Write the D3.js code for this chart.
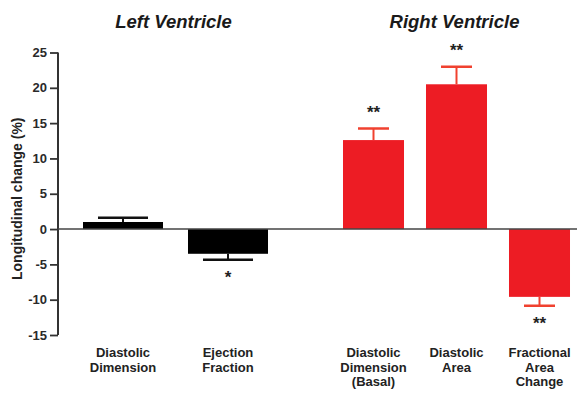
<!DOCTYPE html>
<html>
<head>
<meta charset="utf-8">
<script src="https://cdn.jsdelivr.net/npm/d3@7"></script>
<style>
  html, body { margin: 0; padding: 0; background: #fff; }
  svg { display: block; font-family: "Liberation Sans", Arial, sans-serif; }
</style>
</head>
<body>
<svg id="chart" width="577" height="399"></svg>
<script>
// ---- data ----
const groups = ["Left Ventricle", "Right Ventricle"];
const lvCategories = ["Diastolic\nDimension", "Ejection\nFraction"];
const rvCategories = ["Diastolic\nDimension\n(Basal)", "Diastolic\nArea", "Fractional\nArea\nChange"];
const lvValues = [1.0, -3.5];
const lvErrors = [0.6, 0.85];
const lvStars = ["", "*"];
const rvValues = [12.6, 20.5, -9.6];
const rvErrors = [1.65, 2.5, 1.25];
const rvStars = ["**", "**", "**"];
const yTicks = [25, 20, 15, 10, 5, 0, -5, -10, -15];
const yLabel = "Longitudinal change (%)";

const svg = d3.select("#chart");
const W = 577, H = 399;
const axisX = 58;
const FONT = "'Liberation Sans', Arial, sans-serif";

const y = d3.scaleLinear().domain([-15, 25]).range([335, 52.5]);

const xLV = d3.scaleBand().domain(lvCategories).range([70.5, 280.5])
  .paddingInner(0.238).paddingOuter(0.119);
const xRV = d3.scaleBand().domain(rvCategories).range([332, 581])
  .paddingInner(0.265).paddingOuter(0.1325);

// y axis
const yAxis = d3.axisLeft(y).tickValues(yTicks).tickSize(8).tickPadding(3)
  .tickFormat(d => String(d));
const gY = svg.append("g").attr("transform", `translate(${axisX},0)`).call(yAxis);
gY.select(".domain").attr("stroke", "#333").attr("stroke-width", 2).attr("d", `M0,${y(25)}V${y(-15)}`);
gY.selectAll(".tick line").attr("stroke", "#333").attr("stroke-width", 1.8);
gY.selectAll(".tick text").attr("fill", "#2a2a2a").attr("font-size", 13).attr("font-weight", "bold")
  .attr("font-family", FONT);

// y label
svg.append("text")
  .attr("transform", `translate(22,${(y(25) + y(-15)) / 2 + 5}) rotate(-90)`)
  .attr("text-anchor", "middle")
  .attr("font-size", 14).attr("font-weight", "bold").attr("fill", "#222")
  .text(yLabel);

function drawGroup(x, cats, vals, errs, stars, barColor, errColor, title) {
  const g = svg.append("g");
  const bw = x.bandwidth();
  const capW = bw - 30;
  cats.forEach((c, i) => {
    const v = vals[i], e = errs[i];
    const x0 = x(c), cx = x0 + bw / 2;
    g.append("rect")
      .attr("x", x0).attr("width", bw)
      .attr("y", Math.min(y(v), y(0))).attr("height", Math.abs(y(v) - y(0)))
      .attr("fill", barColor);
    const tip = v >= 0 ? v + e : v - e;
    g.append("line").attr("x1", cx).attr("x2", cx).attr("y1", y(v)).attr("y2", y(tip))
      .attr("stroke", errColor).attr("stroke-width", 2);
    g.append("line").attr("x1", cx - capW / 2).attr("x2", cx + capW / 2).attr("y1", y(tip)).attr("y2", y(tip))
      .attr("stroke", errColor).attr("stroke-width", 2.5);
    if (stars[i]) {
      const sy = v >= 0 ? y(tip) - 20 : y(tip) + 14;
      g.append("text").attr("x", cx).attr("y", sy + 9.5)
        .attr("text-anchor", "middle").attr("font-size", 17).attr("font-weight", "bold").attr("fill", "#222")
        .text(stars[i]);
    }
    const lines = c.split("\n");
    const t = g.append("text").attr("text-anchor", "middle").attr("font-size", 13)
      .attr("font-weight", "bold").attr("fill", "#222");
    lines.forEach((ln, k) => {
      t.append("tspan").attr("x", cx).attr("y", 357 + k * 14.7).text(ln);
    });
  });
  const first = x(cats[0]), last = x(cats[cats.length - 1]) + bw;
  svg.append("text").attr("x", (first + last) / 2 - 2).attr("y", 28)
    .attr("text-anchor", "middle").attr("font-size", 18.5).attr("font-weight", "bold")
    .attr("font-style", "italic").attr("fill", "#1a1a1a").text(title);
}

drawGroup(xLV, lvCategories, lvValues, lvErrors, lvStars, "#000", "#111", groups[0]);
drawGroup(xRV, rvCategories, rvValues, rvErrors, rvStars, "#ed1c24", "#f0412f", groups[1]);

// zero line
svg.append("line").attr("x1", axisX).attr("x2", W).attr("y1", y(0)).attr("y2", y(0))
  .attr("stroke", "#444").attr("stroke-width", 1.5);
</script>
</body>
</html>
